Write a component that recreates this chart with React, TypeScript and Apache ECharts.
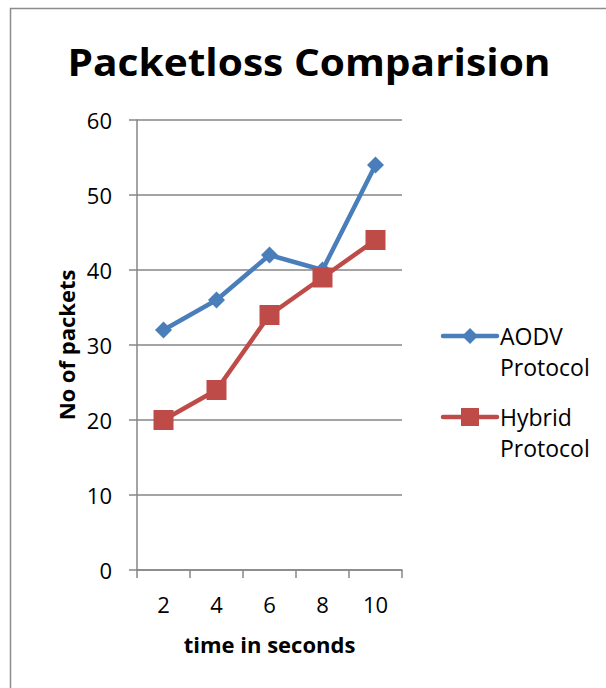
import React, { useEffect, useRef } from "react";
import * as echarts from "echarts";

const categories = ["2", "4", "6", "8", "10"];
const aodv = [32, 36, 42, 40, 54];
const hybrid = [20, 24, 34, 39, 44];
const seriesNames = ["AODV Protocol", "Hybrid Protocol"];
const legendLines = [["AODV", "Protocol"], ["Hybrid", "Protocol"]];
const blue = "#4A7EBB";
const red = "#BE4B48";
const FONT = "Open Sans";

export default function App() {
  const ref = useRef<HTMLDivElement>(null);
  useEffect(() => {
    const chart = echarts.init(ref.current!, null, { renderer: "svg" });
    const gray = "#868686";
    chart.setOption({
      animation: false,
      grid: { left: 137, right: 204, top: 120, bottom: 118 },
      xAxis: {
        type: "category",
        data: categories,
        boundaryGap: true,
        axisLine: { show: true, lineStyle: { color: gray, width: 1.5 } },
        axisTick: { show: true, length: 8, lineStyle: { color: gray, width: 1.5 } },
        axisLabel: { color: "#000", fontFamily: FONT, fontSize: 22, margin: 23 },
        name: "time in seconds",
        nameLocation: "middle",
        nameGap: 63,
        nameTextStyle: { color: "#000", fontFamily: FONT, fontSize: 22, fontWeight: "bold" },
      },
      yAxis: {
        type: "value",
        min: 0,
        max: 60,
        interval: 10,
        axisLine: { show: true, lineStyle: { color: gray, width: 1.5 } },
        axisTick: { show: true, length: 8, lineStyle: { color: gray, width: 1.5 } },
        splitLine: { show: true, lineStyle: { color: gray, width: 1.5 } },
        axisLabel: { color: "#000", fontFamily: FONT, fontSize: 22, margin: 25 },
        name: "No of packets",
        nameLocation: "middle",
        nameRotate: 90,
        nameGap: 60,
        nameTextStyle: { color: "#000", fontFamily: FONT, fontSize: 22, fontWeight: "bold" },
      },
      series: [
        {
          name: seriesNames[0],
          type: "line",
          data: aodv,
          symbol: "diamond",
          symbolSize: 17,
          lineStyle: { color: blue, width: 4.5 },
          itemStyle: { color: blue },
        },
        {
          name: seriesNames[1],
          type: "line",
          data: hybrid,
          symbol: "rect",
          symbolSize: 20,
          lineStyle: { color: red, width: 4.5 },
          itemStyle: { color: red },
        },
      ],
      graphic: [
        {
          type: "rect",
          shape: { x: 10.5, y: 8.5, width: 700, height: 800 },
          style: { fill: "none", stroke: "#8c8c8c", lineWidth: 1.5 },
          silent: true,
        },
        {
          type: "text",
          x: 309,
          y: 62,
          scaleX: 1.07,
          style: {
            text: "Packetloss Comparision",
            fontFamily: FONT,
            fontSize: 38,
            fontWeight: "bold",
            fill: "#000",
            align: "center",
            verticalAlign: "middle",
          },
        },
        ...[0, 1].flatMap((i) => {
          const cy = i === 0 ? 336 : 417;
          const color = i === 0 ? blue : red;
          const marker =
            i === 0
              ? {
                  type: "polygon",
                  shape: { points: [[470, cy - 8], [478, cy], [470, cy + 8], [462, cy]] },
                  style: { fill: color },
                }
              : {
                  type: "rect",
                  shape: { x: 461, y: cy - 9, width: 18, height: 18 },
                  style: { fill: color },
                };
          return [
            {
              type: "line",
              shape: { x1: 443, y1: cy, x2: 497, y2: cy },
              style: { stroke: color, lineWidth: 4.5, lineCap: "round" },
            },
            marker,
            {
              type: "text",
              x: 500,
              y: cy,
              style: {
                text: legendLines[i][0],
                fontFamily: FONT,
                fontSize: 23,
                fill: "#000",
                align: "left",
                verticalAlign: "middle",
              },
            },
            {
              type: "text",
              x: 500,
              y: cy + 31,
              style: {
                text: legendLines[i][1],
                fontFamily: FONT,
                fontSize: 23,
                fill: "#000",
                align: "left",
                verticalAlign: "middle",
              },
            },
          ];
        }),
      ],
    });
    return () => chart.dispose();
  }, []);
  return (
    <div
      ref={ref}
      style={{ position: "fixed", left: 0, top: 0, width: 606, height: 688, background: "#fff" }}
    />
  );
}
